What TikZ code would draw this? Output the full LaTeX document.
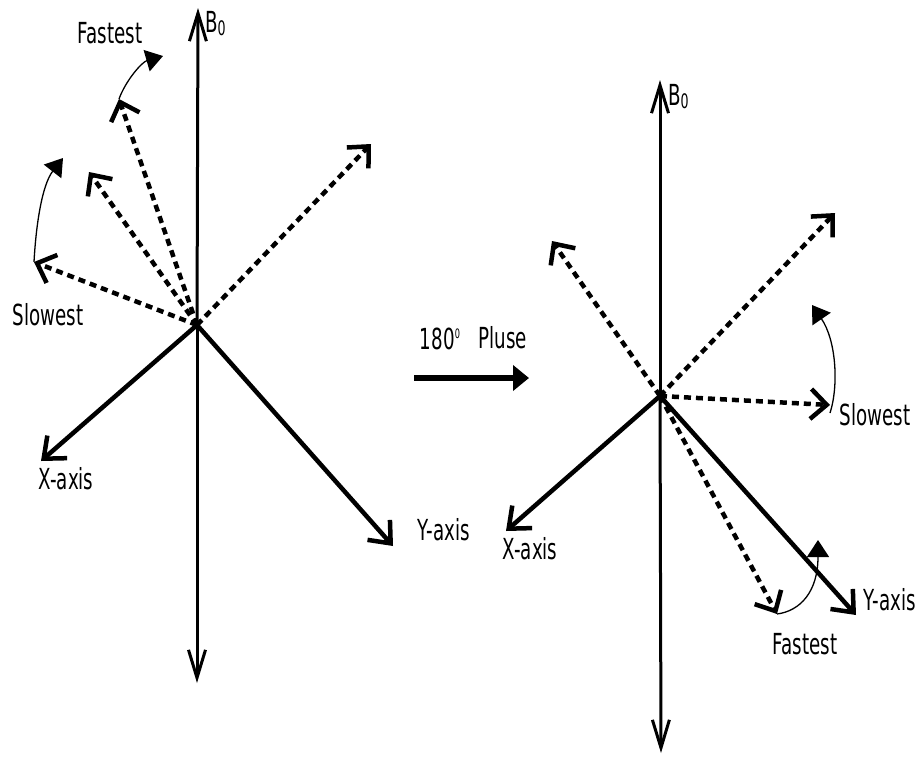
\documentclass[tikz,border=0pt]{standalone}
\usepackage{fontspec}
\setmainfont{DejaVu Sans}[FakeStretch=0.63]
\usetikzlibrary{arrows.meta}
\begin{document}
\begin{tikzpicture}[x=1pt,y=-1pt,
  lbl/.style={inner sep=0pt,font=\fontsize{29}{31}\selectfont},
  baxis/.style={line width=3pt,-{Straight Barb[length=28pt,width=17pt]}},
  axisarrow/.style={line width=4.5pt,-{Straight Barb[length=18pt,width=30pt]}},
  dasharrow/.style={line width=4.5pt,dash pattern=on 7pt off 5pt,-{Straight Barb[length=16pt,width=30pt]}},
  rotarrow/.style={line width=1.3pt,-{Triangle[length=17pt,width=22pt]}},
  pulsearrow/.style={line width=6pt,-{Triangle[length=16pt,width=25pt]}}]
\useasboundingbox (0,0) rectangle (922,756);
% ---------- left diagram ----------
\coordinate (Lo) at (197,325);
\coordinate (LBt) at (198,8);
\coordinate (LBb) at (197,683);
\coordinate (LX) at (41,461);
\coordinate (LY) at (393,546);
\coordinate (LF) at (119,99);
\coordinate (LM) at (89,172);
\coordinate (LS) at (34,262);
\coordinate (LR) at (371,144);
\coordinate (LFa) at (163,56);
\coordinate (LSa) at (63,158);
\draw[baxis] (Lo) -- (LBt);
\draw[baxis] (Lo) -- (LBb);
\draw[axisarrow] (Lo) -- (LX);
\draw[axisarrow] (Lo) -- (LY);
\draw[dasharrow] (Lo) -- (LF);
\draw[dasharrow] (Lo) -- (LM);
\draw[dasharrow] (Lo) -- (LS);
\draw[dasharrow] (Lo) -- (LR);
\draw[rotarrow] (LF) .. controls (126,80) and (142,62) .. (LFa);
\draw[rotarrow] (LS) .. controls (36,225) and (42,185) .. (LSa);
\node[lbl,anchor=west] (LB0) at (205,24) {B\raisebox{-3pt}{\fontsize{20}{20}\selectfont 0}};
\node[lbl] (LFl) at (110,33) {Fastest};
\node[lbl] (LSl) at (48,315) {Slowest};
\node[lbl] (LXl) at (66,479) {X-axis};
\node[lbl] (LYl) at (444,530) {Y-axis};
% ---------- pulse ----------
\coordinate (P1) at (414,378);
\coordinate (P2) at (529,378);
\draw[pulsearrow] (P1) -- (P2);
\node[lbl] (P180) at (440,339) {180\raisebox{11pt}{\fontsize{13}{13}\selectfont 0}};
\node[lbl] (Ppl) at (503,338) {Pluse};
% ---------- right diagram ----------
\coordinate (Ro) at (660,396);
\coordinate (RBt) at (660,80);
\coordinate (RBb) at (661,753);
\coordinate (RX) at (506,531);
\coordinate (RY) at (856,615);
\coordinate (RUL) at (552,241);
\coordinate (RUR) at (835,213);
\coordinate (RS) at (830,405);
\coordinate (RF) at (777,614);
\coordinate (RSa) at (812,305);
\coordinate (RFa) at (818,540);
\draw[baxis] (Ro) -- (RBt);
\draw[baxis] (Ro) -- (RBb);
\draw[axisarrow] (Ro) -- (RX);
\draw[axisarrow] (Ro) -- (RY);
\draw[dasharrow] (Ro) -- (RUL);
\draw[dasharrow] (Ro) -- (RUR);
\draw[dasharrow] (Ro) -- (RS);
\draw[dasharrow] (Ro) -- (RF);
\draw[rotarrow] (830,413) .. controls (839,385) and (836,340) .. (RSa);
\draw[rotarrow] (RF) .. controls (800,611) and (818,592) .. (RFa);
\node[lbl,anchor=west] (RB0) at (668,97) {B\raisebox{-3pt}{\fontsize{20}{20}\selectfont 0}};
\node[lbl] (RXl) at (530,549) {X-axis};
\node[lbl] (RYl) at (890,600) {Y-axis};
\node[lbl] (RSl) at (875,415) {Slowest};
\node[lbl] (RFl) at (805,644) {Fastest};
\end{tikzpicture}
\end{document}
